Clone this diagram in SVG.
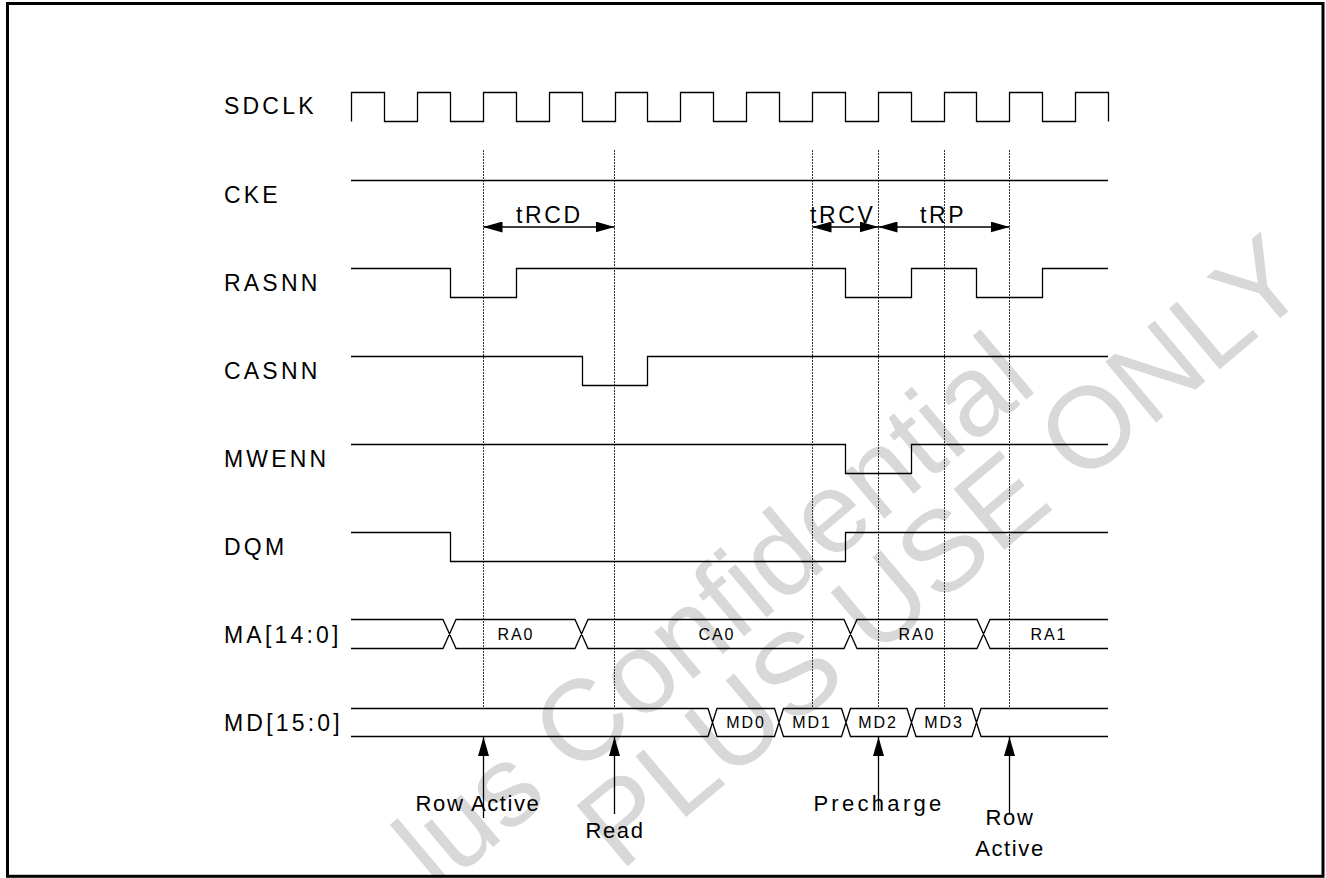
<svg xmlns="http://www.w3.org/2000/svg" width="1326" height="878" viewBox="0 0 1326 878">
<style>
.lbl{font-family:"Liberation Sans",Arial,sans-serif;font-size:23px;letter-spacing:3.2px;fill:#000}
.tm{font-family:"Liberation Sans",Arial,sans-serif;font-size:23px;letter-spacing:2.6px;fill:#000}
.bus{font-family:"Liberation Sans",Arial,sans-serif;font-size:16px;letter-spacing:1.9px;fill:#000;text-anchor:middle}
.ev{font-family:"Liberation Sans",Arial,sans-serif;font-size:22px;letter-spacing:1.6px;fill:#000;text-anchor:middle}
.wm{font-family:"Liberation Sans",Arial,sans-serif;font-size:115px;fill:#d8d8d8}
.sig{fill:none;stroke:#000;stroke-width:1.3}
.grid{fill:none;stroke:#333;stroke-width:1;stroke-dasharray:2 1}
.arr{fill:none;stroke:#000;stroke-width:1.3}
</style>
<defs>
<marker id="ah" viewBox="0 0 19 11" refX="19" refY="5.5" markerWidth="19" markerHeight="11" markerUnits="userSpaceOnUse" orient="auto-start-reverse">
<path d="M0,0 L19,5.5 L0,11 z" fill="#000"/>
</marker>
<clipPath id="frameclip"><rect x="9" y="5" width="1312.5" height="870"/></clipPath>
</defs>
<rect x="0" y="0" width="1326" height="878" fill="#fff"/>
<g id="watermark" clip-path="url(#frameclip)">
<text class="wm" transform="translate(437.6,893.4) rotate(-40)">lus Confidential</text>
<text class="wm" transform="translate(620.2,872.2) rotate(-40)">PLUS USE ONLY</text>
</g>
<g id="frame"><rect x="7.5" y="3.5" width="1315.5" height="872.8" fill="none" stroke="#000" stroke-width="3"/></g>
<g id="labels">
<text class="lbl" x="224" y="114">SDCLK</text>
<text class="lbl" x="224" y="202.5">CKE</text>
<text class="lbl" x="224" y="290.5">RASNN</text>
<text class="lbl" x="224" y="378.5">CASNN</text>
<text class="lbl" x="224" y="466.5">MWENN</text>
<text class="lbl" x="224" y="554.5">DQM</text>
<text class="lbl" x="224" y="642.5">MA[14:0]</text>
<text class="lbl" x="224" y="730.5">MD[15:0]</text>
</g>
<g id="connectors">
<path class="grid" d="M483.5,150 V708 M614.5,150 V708 M812.5,150 V708 M878.5,150 V708 M944.5,150 V708 M1009.5,150 V708"/>
<line class="arr" x1="483.5" y1="227" x2="614.5" y2="227" marker-start="url(#ah)" marker-end="url(#ah)"/>
<line class="arr" x1="812.5" y1="227" x2="878.5" y2="227" marker-start="url(#ah)" marker-end="url(#ah)"/>
<line class="arr" x1="878.5" y1="227" x2="1009.5" y2="227" marker-start="url(#ah)" marker-end="url(#ah)"/>
<line class="arr" x1="483.5" y1="818" x2="483.5" y2="737" marker-end="url(#ah)"/>
<line class="arr" x1="614.5" y1="814" x2="614.5" y2="737" marker-end="url(#ah)"/>
<line class="arr" x1="878.5" y1="811" x2="878.5" y2="737" marker-end="url(#ah)"/>
<line class="arr" x1="1009.5" y1="814" x2="1009.5" y2="737" marker-end="url(#ah)"/>
</g>
<g id="timing">
<text class="tm" x="516" y="223">tRCD</text>
<text class="tm" x="810" y="223">tRCV</text>
<text class="tm" x="920" y="223">tRP</text>
</g>
<g id="sdclk"><path class="sig" d="M351.5,121.5 V92.5 H384.5 V121.5 H417.5 V92.5 H450.5 V121.5 H483.5 V92.5 H516.5 V121.5 H549.5 V92.5 H582.5 V121.5 H615.5 V92.5 H647.5 V121.5 H680.5 V92.5 H713.5 V121.5 H746.5 V92.5 H779.5 V121.5 H812.5 V92.5 H845.5 V121.5 H878.5 V92.5 H911.5 V121.5 H944.5 V92.5 H976.5 V121.5 H1009.5 V92.5 H1042.5 V121.5 H1075.5 V92.5 H1108.5 V121.5"/></g>
<g id="cke"><path class="sig" d="M351,180.5 H1108"/></g>
<g id="rasnn"><path class="sig" d="M351,268.5 H450.5 V297.5 H516.5 V268.5 H845.5 V297.5 H911.5 V268.5 H976.5 V297.5 H1042.5 V268.5 H1108"/></g>
<g id="casnn"><path class="sig" d="M351,356.5 H582.5 V385.5 H647.5 V356.5 H1108"/></g>
<g id="mwenn"><path class="sig" d="M351,444.5 H845.5 V473.5 H911.5 V444.5 H1108"/></g>
<g id="dqm"><path class="sig" d="M351,532.5 H450.5 V561.5 H845.5 V532.5 H1108"/></g>
<g id="ma">
<path class="sig" d="M351,619.5 H443 L456,648.5 H575 L588,619.5 H844 L857,648.5 H977 L990,619.5 H1108 M351,648.5 H443 L456,619.5 H575 L588,648.5 H844 L857,619.5 H977 L990,648.5 H1108"/>
<text class="bus" x="516" y="640">RA0</text>
<text class="bus" x="717" y="640">CA0</text>
<text class="bus" x="917" y="640">RA0</text>
<text class="bus" x="1049" y="640">RA1</text>
</g>
<g id="md">
<path class="sig" d="M351,708.5 H708 L717,736.5 H774.5 L783.5,708.5 H841.5 L850.5,736.5 H907 L916,708.5 H972 L981,736.5 H1108 M351,736.5 H708 L717,708.5 H774.5 L783.5,736.5 H841.5 L850.5,708.5 H907 L916,736.5 H972 L981,708.5 H1108"/>
<text class="bus" x="746" y="728">MD0</text>
<text class="bus" x="812" y="728">MD1</text>
<text class="bus" x="878" y="728">MD2</text>
<text class="bus" x="944" y="728">MD3</text>
</g>
<g id="events">
<text class="ev" x="478" y="811">Row Active</text>
<text class="ev" x="615" y="838">Read</text>
<text class="ev" x="879" y="811" style="letter-spacing:3.3px">Precharge</text>
<text class="ev" x="1010" y="825">Row</text>
<text class="ev" x="1010" y="856">Active</text>
</g>
</svg>
